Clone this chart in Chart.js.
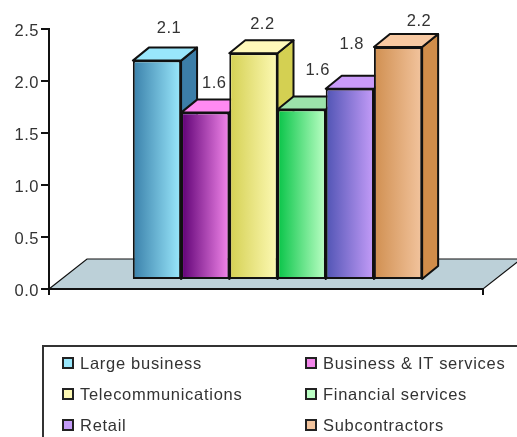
<!DOCTYPE html>
<html>
<head>
<meta charset="utf-8">
<style>
html, body { margin: 0; padding: 0; background: #fff; overflow: hidden; width: 517px; height: 437px; }
#wrap { position: relative; width: 517px; height: 437px; overflow: hidden; filter: blur(0.6px); }
canvas { position: absolute; left: 0; top: 0; }
#legend { position: absolute; left: 42px; top: 345px; width: 520px; height: 120px; box-sizing: border-box;
  border: 2px solid #333; font: 16.5px "Liberation Sans", Arial, sans-serif; letter-spacing: 0.72px; color: #333; }
#legend div { position: absolute; white-space: nowrap; line-height: 18px; padding-left: 36px; }
#legend i { position: absolute; left: 18px; top: 3px; width: 8px; height: 8px; border: 2px solid #222; }
</style>
</head>
<body>
<div id="wrap">
<canvas id="chart" width="517" height="345"></canvas>
<div id="legend"></div>
</div>
<script src="https://cdn.jsdelivr.net/npm/chart.js@4"></script>
<script>
var seriesNames = ["Large business", "Business & IT services", "Telecommunications", "Financial services", "Retail", "Subcontractors"];
var seriesValues = [2.10, 1.60, 2.17, 1.63, 1.83, 2.23];
var yTicks = [0, 0.5, 1.0, 1.5, 2.0, 2.5];

// colours per series
var frontDark = ["#3a80aa", "#5e0074", "#d4d052", "#08c448", "#5054b4", "#d08f50"];
var frontLight = ["#9ae8fc", "#f286ea", "#fdf9b4", "#bbffc4", "#c49cf8", "#f2c49e"];
var topColors = ["#99e6fb", "#ff8af2", "#fff9ba", "#9ce2aa", "#ca9bf9", "#f8c9a2"];
var sideColors = ["#3c7ea8", "#68007c", "#d4d052", "#10c850", "#5a5cb8", "#d18d4a"];

// the bars stand on the floor, one floor depth above the axis line
var floorLift = 0.096;
var labelNudge = [[12, -19], [9, -16], [9, -16], [16, -26], [2, -31], [21, -13]];

var INK = "#111";
var DX = 16, DY = 13;

var fake3d = {
    id: "fake3d",
    beforeDraw: function(chart) {
        chart.ctx.letterSpacing = "0.5px";
    },
    beforeDatasetsDraw: function(chart) {
        var ctx = chart.ctx;
        var x = chart.scales.x, y = chart.scales.y;
        var y0 = y.getPixelForValue(0);
        var xEnd = x.right - 23;

        // floor
        ctx.save();
        ctx.beginPath();
        ctx.moveTo(x.left, y0);
        ctx.lineTo(x.left + 38, y0 - 30);
        ctx.lineTo(xEnd + 38, y0 - 30);
        ctx.lineTo(xEnd, y0);
        ctx.closePath();
        ctx.fillStyle = "#bcd0d8";
        ctx.fill();
        ctx.strokeStyle = INK;
        ctx.lineWidth = 1.2;
        ctx.stroke();
        ctx.lineWidth = 2;
        ctx.beginPath();
        ctx.moveTo(x.left - 1, y0);
        ctx.lineTo(xEnd + 1, y0);
        ctx.moveTo(x.left, y0);
        ctx.lineTo(x.left, y0 + 6);
        ctx.moveTo(xEnd, y0);
        ctx.lineTo(xEnd, y0 + 6);
        ctx.stroke();

        // bars left to right so each covers the side of the one before
        ctx.lineJoin = "round";
        seriesValues.forEach(function(v, i) {
            var el = chart.getDatasetMeta(i).data[0];
            var l = el.x - el.width / 2, r = el.x + el.width / 2;
            var t = el.y, b = el.base;

            ctx.strokeStyle = INK;
            ctx.lineWidth = 2;
            ctx.fillStyle = sideColors[i];
            ctx.beginPath();
            ctx.moveTo(r, t);
            ctx.lineTo(r + DX, t - DY);
            ctx.lineTo(r + DX, b - DY);
            ctx.lineTo(r, b);
            ctx.closePath();
            ctx.fill();
            ctx.stroke();

            ctx.fillStyle = topColors[i];
            ctx.beginPath();
            ctx.moveTo(l, t);
            ctx.lineTo(l + DX, t - DY);
            ctx.lineTo(r + DX, t - DY);
            ctx.lineTo(r, t);
            ctx.closePath();
            ctx.fill();
            ctx.stroke();

            el.draw(ctx);
            var g = ctx.createLinearGradient(l, 0, r, 0);
            g.addColorStop(0, frontDark[i]);
            g.addColorStop(1, frontLight[i]);
            ctx.fillStyle = g;
            ctx.fillRect(l + 2, t + 2, el.width - 4, b - t - 4);
        });

        // value labels
        ctx.font = '16.5px "Liberation Sans", Arial, sans-serif';
        ctx.fillStyle = "#333";
        ctx.textAlign = "center";
        ctx.textBaseline = "middle";
        seriesValues.forEach(function(v, i) {
            var el = chart.getDatasetMeta(i).data[0];
            ctx.fillText(v.toFixed(1), el.x + labelNudge[i][0], el.y - DY + labelNudge[i][1]);
        });
        ctx.restore();
        return false;
    }
};

var datasets = seriesNames.map(function(name, i) {
    return {
        label: name,
        data: [[floorLift, floorLift + seriesValues[i]]],
        backgroundColor: frontLight[i],
        borderColor: INK,
        borderWidth: 2,
        borderSkipped: false,
        barPercentage: 1,
        categoryPercentage: 0.633
    };
});

new Chart(document.getElementById("chart"), {
    type: "bar",
    data: { labels: [""], datasets: datasets },
    plugins: [fake3d],
    options: {
        responsive: false,
        animation: false,
        layout: { padding: { top: 29, bottom: 56, right: 11, left: 0 } },
        plugins: { legend: { display: false }, tooltip: { enabled: false } },
        scales: {
            x: { display: false },
            y: {
                min: 0,
                max: 2.5,
                afterBuildTicks: function(axis) {
                    axis.ticks = yTicks.map(function(v) { return { value: v }; });
                },
                afterFit: function(axis) { axis.width = 49; },
                border: { color: INK, width: 2 },
                grid: { drawOnChartArea: false, color: INK, lineWidth: 2, tickLength: 8 },
                ticks: {
                    color: "#333",
                    padding: 2,
                    labelOffset: 2,
                    font: { family: '"Liberation Sans", Arial, sans-serif', size: 16.5 },
                    callback: function(v) { return Number(v).toFixed(1); }
                }
            }
        }
    }
});

// two-column legend, filled row by row
var legend = document.getElementById("legend");
var rowTops = [7, 38, 69];
seriesNames.forEach(function(name, i) {
    var item = document.createElement("div");
    item.style.left = (i % 2 ? 243 : 0) + "px";
    item.style.top = rowTops[Math.floor(i / 2)] + "px";
    var box = document.createElement("i");
    box.style.background = frontLight[i];
    item.appendChild(box);
    item.appendChild(document.createTextNode(name));
    legend.appendChild(item);
});
</script>
</body>
</html>
